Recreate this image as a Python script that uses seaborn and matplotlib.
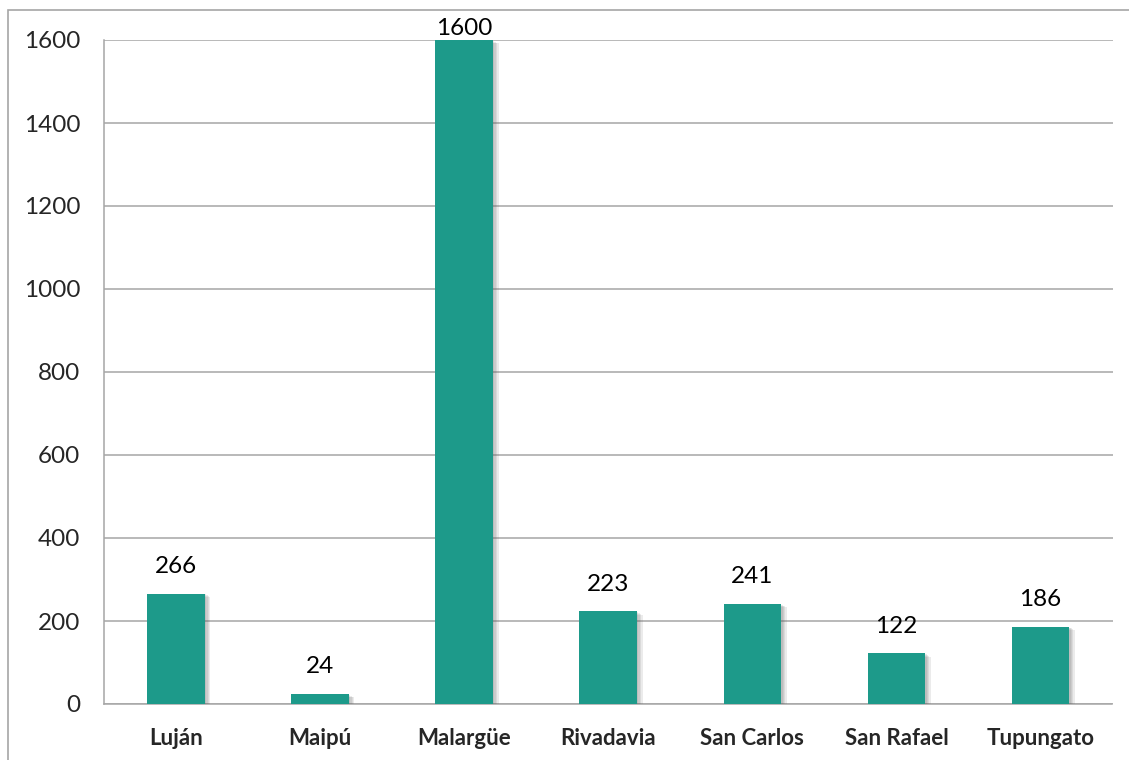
import matplotlib
matplotlib.use("Agg")
import matplotlib.pyplot as plt
import matplotlib.patheffects as pe
from matplotlib.ticker import FixedLocator
import seaborn as sns
import pandas as pd

categories = ["Luján", "Maipú", "Malargüe", "Rivadavia", "San Carlos", "San Rafael", "Tupungato"]
values = [266, 24, 1600, 223, 241, 122, 186]
yticks = [0, 200, 400, 600, 800, 1000, 1200, 1400, 1600]

df = pd.DataFrame({"cat": categories, "val": values})

sns.set_style("white")
plt.rcParams["font.family"] = ["Lato", "DejaVu Sans"]

fig = plt.figure(figsize=(11.29, 7.6), dpi=100)
W, H = 1129, 760
ax = fig.add_axes([104 / W, 1 - 704 / H, (1112.5 - 104) / W, (704 - 40) / H])

# outer chart border
fig.add_artist(plt.Rectangle((8 / W, -0.05), 1.2, 1 - 10 / H + 0.05, transform=fig.transFigure,
                             fill=False, edgecolor="#A6A6A6", linewidth=1.2))

color = "#1D9A8A"
sns.barplot(data=df, x="cat", y="val", color=color, width=0.4, saturation=1, ax=ax, zorder=3)
shadow = [pe.SimplePatchShadow(offset=(k, -k * 0.6), shadow_rgbFace="#606060", alpha=0.12) for k in (4, 3, 2, 1)]
for p in ax.patches:
    p.set_path_effects(shadow + [pe.Normal()])
    p.set_edgecolor("none")

ax.set_ylim(0, 1600)
ax.set_xlim(-0.5, len(categories) - 0.5)
ax.set_yticks(yticks)
ax.set_yticklabels([str(v) for v in yticks], fontsize=17.5)
ax.yaxis.grid(True, color="#A6A6A6", linewidth=1.1, zorder=0)
ax.set_axisbelow(True)

ymax = ax.get_ylim()[1]
for i, v in enumerate(values):
    off = 1 if v >= ymax else 12
    ax.annotate(str(v), (i, v), xytext=(0, off), textcoords="offset points", ha="center", va="bottom",
                fontsize=17.5, color="black", zorder=5, annotation_clip=False)

ax.set_xlabel("")
ax.set_ylabel("")
ax.set_xticks(range(len(categories)))
ax.set_xticklabels(categories, fontsize=16, fontweight="bold")
ax.xaxis.set_minor_locator(FixedLocator([i - 0.5 for i in range(len(categories) + 1)]))
ax.tick_params(axis="x", which="major", length=0, pad=17)
ax.tick_params(axis="x", which="minor", length=6, color="#A6A6A6", width=1.1, direction="out")
ax.tick_params(axis="y", which="major", length=6, color="#A6A6A6", width=1.1, direction="out", pad=11)

for s in ["top", "right"]:
    ax.spines[s].set_visible(False)
for s in ["left", "bottom"]:
    ax.spines[s].set_color("#A6A6A6")
    ax.spines[s].set_linewidth(1.1)

fig.savefig("out.png", dpi=100)
